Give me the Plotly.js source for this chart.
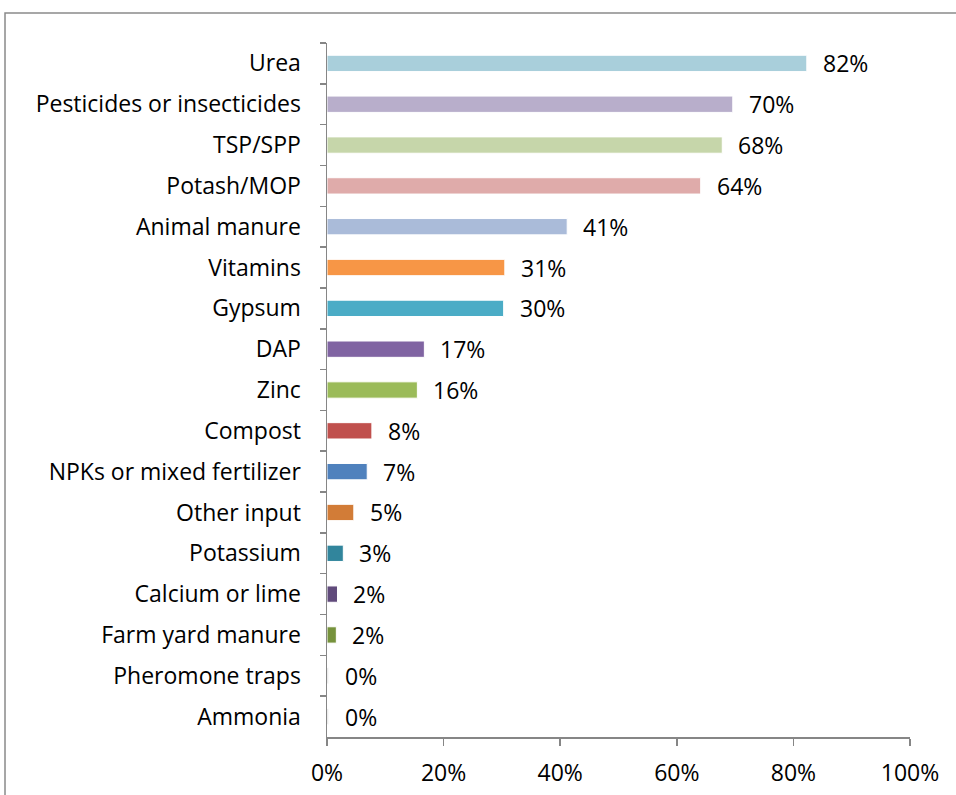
<!DOCTYPE html>
<html>
<head>
<meta charset="utf-8">
<script src="https://cdn.plot.ly/plotly-3.0.1.min.js"></script>
<style>html,body{margin:0;padding:0;background:#fff;}#chart{width:956px;height:795px;}</style>
</head>
<body>
<div id="chart"></div>
<script>
const categories = ["Urea","Pesticides or insecticides","TSP/SPP","Potash/MOP","Animal manure","Vitamins","Gypsum","DAP","Zinc","Compost","NPKs or mixed fertilizer","Other input","Potassium","Calcium or lime","Farm yard manure","Pheromone traps","Ammonia"];
const values = [82.3, 69.6, 67.8, 64.1, 41.2, 30.5, 30.3, 16.7, 15.5, 7.7, 6.9, 4.6, 2.8, 1.8, 1.6, 0.3, 0.3];
const labels = ["82%","70%","68%","64%","41%","31%","30%","17%","16%","8%","7%","5%","3%","2%","2%","0%","0%"];
const colors = ["#a9cfdb","#b8aecb","#c6d6aa","#dfabaa","#aabbd9","#f79646","#4bacc6","#8064a2","#9bbb59","#c0504d","#4f81bd","#d27c37","#31859c","#604a7b","#76923c","#d9d9d9","#d9d9d9"];
const xTicks = [0,20,40,60,80,100];
const xTickLabels = ["0%","20%","40%","60%","80%","100%"];

const FONT = "'Open Sans', sans-serif";
const FS = 23;

const trace = {
  type: "bar",
  orientation: "h",
  y: categories,
  x: values,
  width: 0.4,
  marker: {color: colors, line: {color: "#ffffff", width: 1}},
  hoverinfo: "none"
};

const annotations = categories.map((c, i) => ({
  x: values[i], y: c, xref: "x", yref: "y",
  text: labels[i], showarrow: false, xanchor: "left", xshift: 14,
  font: {family: FONT, size: FS, color: "#000"}
}));

const layout = {
  width: 956, height: 795,
  margin: {l: 327, r: 46, t: 43, b: 58},
  paper_bgcolor: "#fff", plot_bgcolor: "#fff",
  showlegend: false,
  font: {family: FONT, size: FS, color: "#000"},
  xaxis: {
    range: [0, 100], tickvals: xTicks, ticktext: xTickLabels,
    showgrid: false, zeroline: false,
    showline: true, linecolor: "#868686", linewidth: 1.5,
    ticks: "outside", ticklen: 7, tickcolor: "#868686", tickwidth: 1.5,
    ticklabelstandoff: 8,
    tickfont: {family: FONT, size: FS, color: "#000"},
    fixedrange: true
  },
  yaxis: {
    type: "category", categoryorder: "array", categoryarray: categories,
    autorange: "reversed",
    showgrid: false, zeroline: false,
    showline: true, linecolor: "#868686", linewidth: 1.5,
    ticks: "outside", ticklen: 6, tickcolor: "#868686", tickwidth: 1.5,
    tickson: "boundaries",
    ticklabelstandoff: 20,
    tickfont: {family: FONT, size: FS, color: "#000"},
    fixedrange: true
  },
  annotations: annotations,
  shapes: [{
    type: "rect", xref: "paper", yref: "paper",
    x0: -0.5523, x1: 1.1, y0: -0.1, y1: 1.0432,
    line: {color: "#8a8a8a", width: 1.5}, fillcolor: "rgba(0,0,0,0)", layer: "below"
  }]
};

Plotly.newPlot("chart", [trace], layout, {displayModeBar: false, staticPlot: true});
</script>
</body>
</html>
